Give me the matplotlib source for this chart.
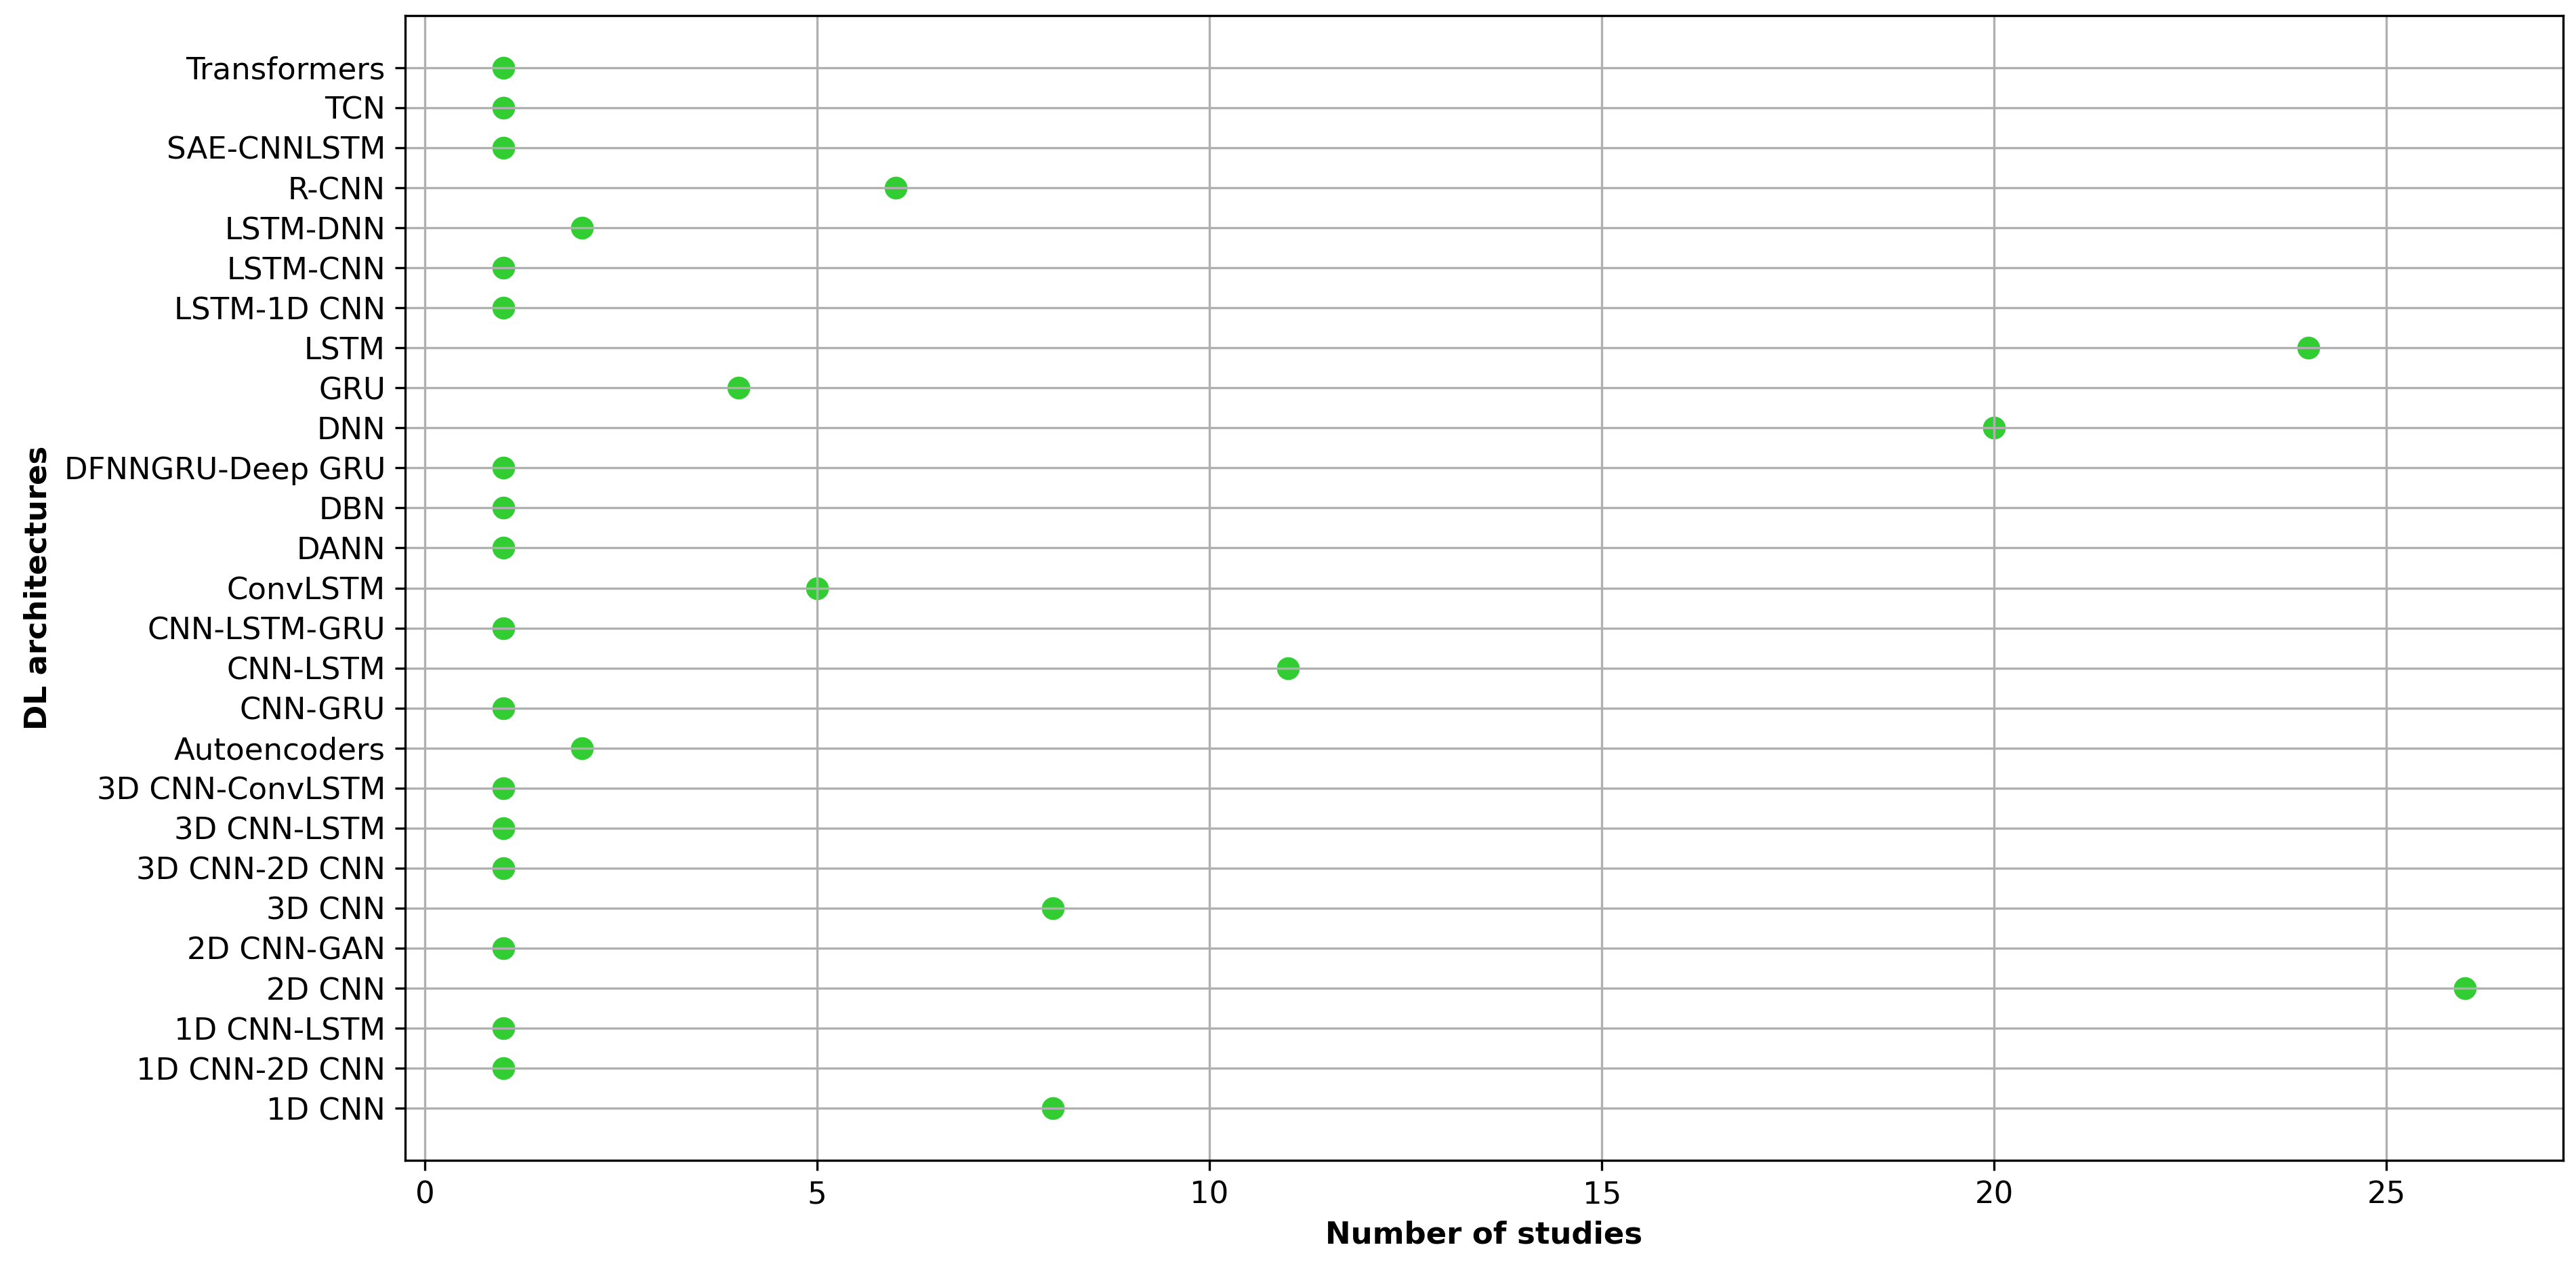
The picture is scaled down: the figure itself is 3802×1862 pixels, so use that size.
import numpy as np
from matplotlib import pyplot as plt

architectures = ['1D CNN', '1D CNN-2D CNN', '1D CNN-LSTM', '2D CNN', '2D CNN-GAN', '3D CNN',
                 '3D CNN-2D CNN', '3D CNN-LSTM', '3D CNN-ConvLSTM', 'Autoencoders', 'CNN-GRU',
                 'CNN-LSTM', 'CNN-LSTM-GRU', 'ConvLSTM', 'DANN', 'DBN', 'DFNNGRU-Deep GRU', 'DNN',
                 'GRU', 'LSTM', 'LSTM-1D CNN', 'LSTM-CNN', 'LSTM-DNN', 'R-CNN', 'SAE-CNNLSTM',
                 'TCN', 'Transformers']
n_studies = [8, 1, 1, 26, 1, 8, 1, 1, 1, 2, 1, 11, 1, 5, 1, 1, 1, 20, 4, 24, 1, 1, 2, 6, 1, 1, 1]

plt.rcParams['font.size'] = 10.8

fig = plt.figure(figsize=(3802 / 300., 1862 / 300.), dpi=300)
ax = fig.add_subplot(111)
fig.subplots_adjust(left=0.1573, right=0.995, top=0.9876, bottom=0.0806)

pos = np.arange(len(architectures))
ax.scatter(n_studies, pos, s=50, color='limegreen')

ax.set_yticks(pos)
ax.set_yticklabels(architectures)
ax.grid(True)

ax.set_xlabel('Number of studies', fontweight='bold')
ax.set_ylabel('DL architectures', fontweight='bold')

fig.savefig('out.png', dpi=300)
